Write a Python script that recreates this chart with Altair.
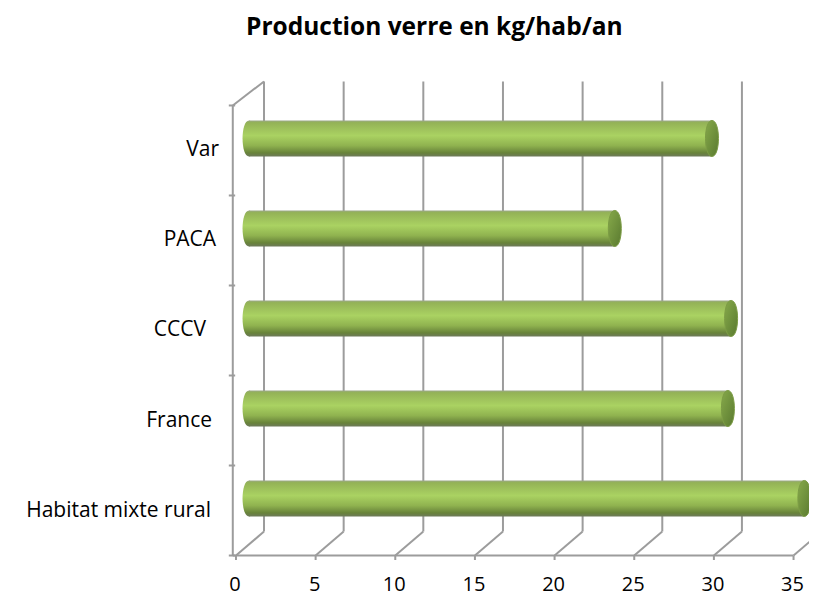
import altair as alt
import pandas as pd

TITLE = "Production verre en kg/hab/an"
categories = ["Habitat mixte rural", "France", "CCCV ", "PACA", "Var"]
values = [34.8, 30.0, 30.2, 22.9, 29.0]
x_ticks = [0, 5, 10, 15, 20, 25, 30, 35]
y_ticks = [0, 1, 2, 3, 4, 5]

# 3-D box depth, in axis units
DX, DY = 1.76, 0.267
FONT = "Open Sans"
GRID = "#9c9c9c"

x_scale = alt.Scale(domain=[-14.31, 35.97], nice=False, zero=False, padding=0)
y_scale = alt.Scale(domain=[-0.472, 6.083], nice=False, zero=False, padding=0)
X = lambda f: alt.X(f, type="quantitative", scale=x_scale, axis=None)
Y = lambda f: alt.Y(f, type="quantitative", scale=y_scale, axis=None)
X2 = lambda f: alt.X2(f)
Y2 = lambda f: alt.Y2(f)

def rules(df, width=2, color=GRID):
    return alt.Chart(df).mark_rule(color=color, strokeWidth=width).encode(
        x=X("x"), x2=X2("x2"), y=Y("y"), y2=Y2("y2"))

top = y_ticks[-1]
back = pd.DataFrame([{"x": v + DX, "x2": v + DX, "y": DY, "y2": top + DY} for v in x_ticks])
floor = pd.DataFrame([{"x": v, "x2": v + DX, "y": 0, "y2": DY} for v in x_ticks])
front_x = pd.DataFrame([{"x": -0.2, "x2": x_ticks[-1], "y": 0, "y2": 0}])
front_y = pd.DataFrame([{"x": -0.2, "x2": -0.2, "y": 0, "y2": top}])
top_edge = pd.DataFrame([{"x": -0.2, "x2": DX, "y": top, "y2": top + DY}])
ticks_x = pd.DataFrame([{"x": v, "x2": v, "y": 0, "y2": -0.05} for v in x_ticks])
ticks_y = pd.DataFrame([{"x": -0.45, "x2": -0.05, "y": c, "y2": c} for c in y_ticks])

bars = pd.DataFrame({
    "cat": categories,
    "start": [DX / 2 - 0.06] * len(values),
    "end": [v + DX / 2 for v in values],
    "c": [i + 0.5 + DY / 2 for i in range(len(values))],
})

def grad(stops, **k):
    return {"gradient": "linear", "stops": [{"offset": o, "color": c} for o, c in stops], **k}

body_grad = grad([(0, "#9aa787"), (0.06, "#93b256"), (0.42, "#aad262"),
                  (0.7, "#8fb24f"), (0.9, "#68833a"), (1, "#6d7a5a")],
                 x1=0, x2=0, y1=0, y2=1)
cap_grad = grad([(0, "#86a94a"), (1, "#5a7a30")], x1=0, x2=1, y1=0, y2=1)
ELLIPSE = "M0,-1C0.48,-1 0.48,1 0,1C-0.48,1 -0.48,-1 0,-1Z"
SIZE = 1296

left = alt.Chart(bars).mark_point(shape=ELLIPSE, size=SIZE, filled=True, fill=body_grad, opacity=1).encode(
    x=X("start"), y=Y("c"))
body = alt.Chart(bars).mark_bar(fill=body_grad, size=36, orient="horizontal").encode(
    x=X("start"), x2=X2("end"), y=Y("c"))
right = alt.Chart(bars).mark_point(shape=ELLIPSE, size=SIZE, filled=True, fill=cap_grad, opacity=1,
                                   stroke="#7c9c45", strokeWidth=1).encode(
    x=X("end"), y=Y("c"))

xlab = pd.DataFrame({"v": x_ticks, "t": [str(v) for v in x_ticks], "y": [-0.33] * len(x_ticks)})
x_text = alt.Chart(xlab).mark_text(font=FONT, fontSize=20, color="#000000", baseline="middle", dx=-1).encode(
    x=X("v"), y=Y("y"), text="t:N")

# hand-set right-edge nudges seen in the reference
nudges = {"Var": 7, "PACA": 4, "CCCV ": -6, "France": 0, "Habitat mixte rural": -1}
cat_layers = []
for i, cat in enumerate(categories):
    d = pd.DataFrame({"cat": [cat], "c": [i + 0.5], "x": [-1.5]})
    cat_layers.append(alt.Chart(d).mark_text(font=FONT, fontSize=21, color="#000000", align="right",
                                             baseline="middle", dx=nudges[cat]).encode(
        x=X("x"), y=Y("c"), text="cat:N"))

chart = alt.layer(
    rules(back), rules(floor), rules(front_x), rules(front_y), rules(top_edge),
    rules(ticks_x), rules(ticks_y), left, body, right, x_text, *cat_layers
).properties(
    width=801, height=590, padding=0,
    autosize=alt.AutoSizeParams(type="none"),
    title=alt.TitleParams(TITLE, font=FONT, fontSize=24.5, fontWeight="bold", color="#000000",
                          anchor="start", frame="group", dx=238, dy=32, offset=0),
).configure_view(stroke=None).configure_axis(grid=False)

chart.save("out.html", embed_options={"renderer": "svg", "actions": False})
